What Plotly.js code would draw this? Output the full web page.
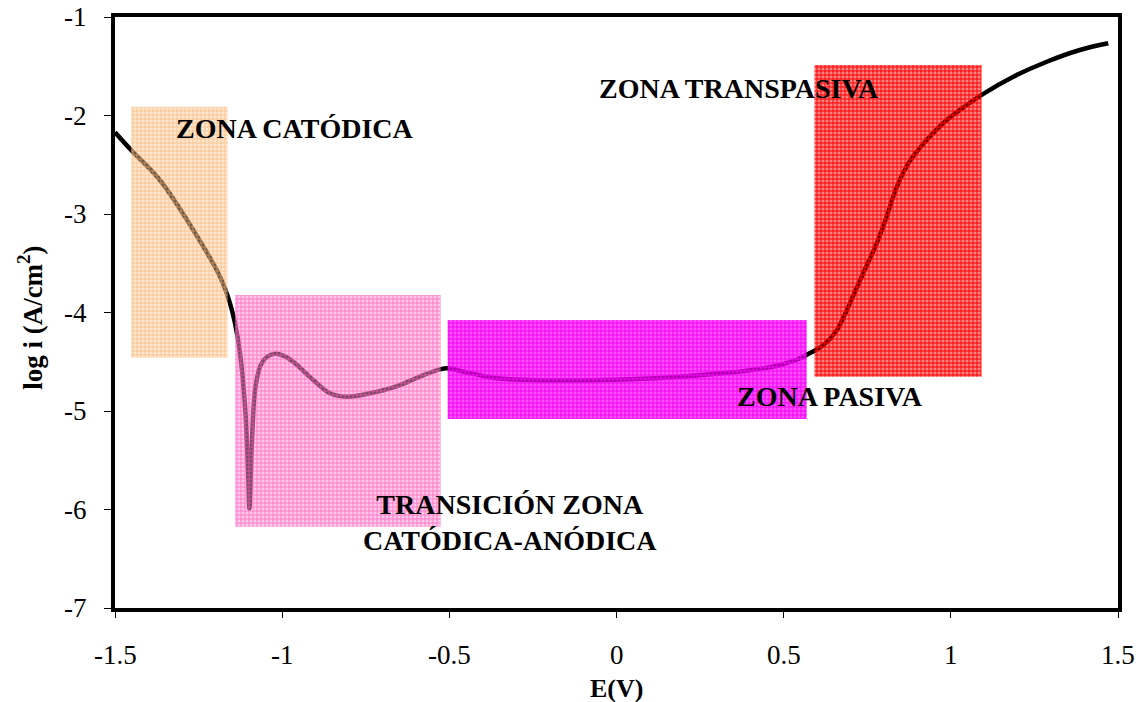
<!DOCTYPE html>
<html>
<head>
<meta charset="utf-8">
<script src="https://cdn.plot.ly/plotly-3.0.1.min.js"></script>
<style>html,body{margin:0;padding:0;background:#fff;}#chart{width:1141px;height:702px;}</style>
</head>
<body>
<div id="chart"></div>
<script>
// Polarization curve: potential E (V) vs log current density
const potentialE = [-1.5, -1.452, -1.366, -1.266, -1.186, -1.156, -1.141, -1.126, -1.111, -1.101, -1.098, -1.091, -1.081, -1.066, -1.045, -1.022, -0.995, -0.967, -0.907, -0.857, -0.807, -0.737, -0.658, -0.588, -0.528, -0.503, -0.458, -0.358, -0.259, -0.109, 0.040, 0.190, 0.340, 0.439, 0.489, 0.539, 0.569, 0.619, 0.659, 0.698, 0.738, 0.778, 0.808, 0.823, 0.838, 0.855, 0.878, 0.928, 0.988, 1.048, 1.092, 1.187, 1.287, 1.386, 1.471];
const logCurrent = [-2.17, -2.35, -2.655, -3.162, -3.636, -3.907, -4.11, -4.414, -4.956, -5.70, -5.99, -5.36, -4.787, -4.55, -4.45, -4.42, -4.44, -4.50, -4.685, -4.82, -4.855, -4.82, -4.75, -4.65, -4.577, -4.567, -4.60, -4.668, -4.685, -4.69, -4.678, -4.652, -4.61, -4.567, -4.533, -4.48, -4.43, -4.33, -4.18, -3.907, -3.60, -3.30, -3.027, -2.87, -2.73, -2.60, -2.46, -2.249, -2.046, -1.893, -1.79, -1.606, -1.454, -1.335, -1.267];

// Zone rectangles
const zoneNames = ["Zona catódica", "Transición", "Zona pasiva", "Zona transpasiva"];
const zoneE0 = [-1.452, -1.141, -0.505, 0.592];
const zoneE1 = [-1.163, -0.526, 0.569, 1.092];
const zoneLow = [-4.459, -6.175, -5.081, -4.652];
const zoneHigh = [-1.911, -3.822, -4.076, -1.487];
const zoneBg = ["rgba(251,203,153,0.45)", "rgba(255,150,212,0.5)", "rgba(255,0,255,0.68)", "rgba(255,0,0,0.48)"];
const zoneFg = ["rgba(248,175,105,0.6)", "rgba(255,80,185,0.65)", "rgba(240,0,240,1)", "rgba(255,0,0,1)"];

// Zone labels
const labelTexts = ["ZONA CATÓDICA", "ZONA TRANSPASIVA", "ZONA PASIVA", "TRANSICIÓN ZONA<br>CATÓDICA-ANÓDICA"];
const labelE = [-0.962, 0.367, 0.639, -0.319];
const labelLog = [-2.127, -1.721, -4.855, -6.132];

// Axes
const xTickVals = [-1.5, -1, -0.5, 0, 0.5, 1, 1.5];
const xTickText = ["-1.5", "-1", "-0.5", "0", "0.5", "1", "1.5"];
const yTickVals = [-1, -2, -3, -4, -5, -6, -7];
const yTickText = ["-1", "-2", "-3", "-4", "-5", "-6", "-7"];
const xTitle = "E(V)";
const yTitle = "log i (A/cm<sup>2</sup>)";

const FONT = "Liberation Serif";

const traces = [{
  x: potentialE, y: logCurrent, type: "scatter", mode: "lines",
  line: {color: "#000000", width: 4.5, shape: "spline", smoothing: 1},
  hoverinfo: "x+y", showlegend: false
}];
for (let i = 0; i < zoneE0.length; i++) {
  traces.push({
    x: [zoneE0[i], zoneE1[i], zoneE1[i], zoneE0[i], zoneE0[i]],
    y: [zoneLow[i], zoneLow[i], zoneHigh[i], zoneHigh[i], zoneLow[i]],
    type: "scatter", mode: "lines", fill: "toself", name: zoneNames[i],
    line: {width: 0, color: "rgba(0,0,0,0)"},
    fillcolor: zoneBg[i],
    fillpattern: {shape: "+", size: 4, solidity: 0.44, fgcolor: zoneFg[i], bgcolor: zoneBg[i], fillmode: "replace"},
    hoverinfo: "name", showlegend: false
  });
}

const annotations = labelTexts.map((t, i) => ({
  x: labelE[i], y: labelLog[i], xref: "x", yref: "y", text: "<b>" + t + "</b>",
  showarrow: false, xanchor: "center", yanchor: "middle",
  font: {family: FONT, size: 28, color: "#000"}
}));
// tick labels
xTickVals.forEach((v, i) => annotations.push({
  x: v, y: -0.0795, xref: "x", yref: "paper", text: xTickText[i], showarrow: false,
  xanchor: "center", yanchor: "middle", font: {family: FONT, size: 27, color: "#000"}
}));
yTickVals.forEach((v, i) => annotations.push({
  x: -0.0255, y: v, xref: "paper", yref: "y", text: yTickText[i], showarrow: false,
  xanchor: "right", yanchor: "middle", font: {family: FONT, size: 27, color: "#000"}
}));
// axis titles
annotations.push({
  x: 0.5, y: -0.1354, xref: "paper", yref: "paper", text: "<b>" + xTitle + "</b>", showarrow: false,
  xanchor: "center", yanchor: "middle", font: {family: FONT, size: 26, color: "#000"}
});
annotations.push({
  x: -0.0847, y: 0.491, xref: "paper", yref: "paper", text: "<b>" + yTitle + "</b>", showarrow: false,
  textangle: -90, xanchor: "center", yanchor: "middle", font: {family: FONT, size: 27, color: "#000"}
});

const layout = {
  width: 1141, height: 702,
  margin: {l: 115, r: 23, t: 17, b: 94},
  paper_bgcolor: "#ffffff", plot_bgcolor: "#ffffff",
  showlegend: false,
  font: {family: FONT, size: 27, color: "#000"},
  xaxis: {
    range: [-1.5, 1.5], tickmode: "array", tickvals: xTickVals, showticklabels: false,
    ticks: "outside", ticklen: 6, tickwidth: 1, tickcolor: "#000",
    showgrid: false, zeroline: false, showline: true, mirror: true, linewidth: 4, linecolor: "#000"
  },
  yaxis: {
    range: [-7, -1], tickmode: "array", tickvals: yTickVals, showticklabels: false,
    ticks: "outside", ticklen: 7, tickwidth: 1, tickcolor: "#000",
    showgrid: false, zeroline: false, showline: true, mirror: true, linewidth: 4, linecolor: "#000"
  },
  annotations: annotations
};

Plotly.newPlot("chart", traces, layout, {displayModeBar: false, staticPlot: true});
</script>
</body>
</html>
